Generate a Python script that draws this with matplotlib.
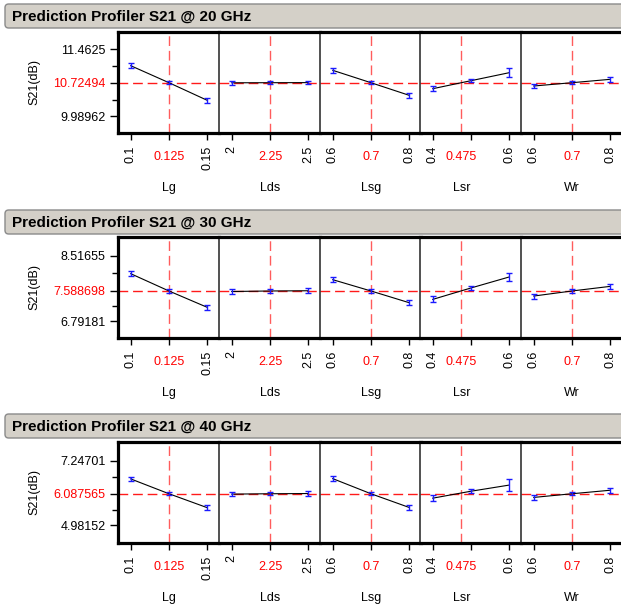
import numpy as np
import matplotlib
matplotlib.use("Agg")
import matplotlib.pyplot as plt
from matplotlib.patches import FancyBboxPatch

plt.rcParams['font.family'] = ['Liberation Sans', 'DejaVu Sans']

factors = ['Lg', 'Lds', 'Lsg', 'Lsr', 'Wr']
levels = [[0.1, 0.125, 0.15], [2, 2.25, 2.5], [0.6, 0.7, 0.8], [0.4, 0.5, 0.6], [0.6, 0.7, 0.8]]
current_x = [0.125, 2.25, 0.7, 0.475, 0.7]
current_lbl = ['0.125', '2.25', '0.7', '0.475', '0.7']
end_lbl = [['0.1', '0.15'], ['2', '2.5'], ['0.6', '0.8'], ['0.4', '0.6'], ['0.6', '0.8']]

titles = ['Prediction Profiler S21 @ 20 GHz',
          'Prediction Profiler S21 @ 30 GHz',
          'Prediction Profiler S21 @ 40 GHz']
current_y = [10.72494, 7.588698, 6.087565]
ytick_vals = [[9.98962, 10.72494, 11.4625],
              [6.79181, 7.588698, 8.51655],
              [4.98152, 6.087565, 7.24701]]
ytick_lbls = [['9.98962', '10.72494', '11.4625'],
              ['6.79181', '7.588698', '8.51655'],
              ['4.98152', '6.087565', '7.24701']]
ylims = [(9.624, 11.835), (6.353, 9.008), (4.370, 7.893)]

s21_20 = [[11.097, 10.725, 10.340], [10.723, 10.725, 10.727], [10.996, 10.725, 10.449],
          [10.594, 10.769, 10.944], [10.653, 10.725, 10.799]]
err_20 = [[0.055, 0.03, 0.05], [0.04, 0.03, 0.04], [0.055, 0.03, 0.05],
          [0.05, 0.035, 0.10], [0.05, 0.03, 0.05]]
s21_30 = [[8.043, 7.589, 7.160], [7.575, 7.589, 7.595], [7.886, 7.589, 7.281],
          [7.368, 7.668, 7.957], [7.456, 7.589, 7.710]]
err_30 = [[0.065, 0.04, 0.06], [0.06, 0.04, 0.06], [0.065, 0.04, 0.065],
          [0.08, 0.05, 0.11], [0.065, 0.04, 0.06]]
s21_40 = [[6.605, 6.088, 5.603], [6.075, 6.088, 6.095], [6.615, 6.088, 5.610],
          [5.934, 6.176, 6.390], [5.960, 6.088, 6.210]]
err_40 = [[0.08, 0.05, 0.08], [0.07, 0.05, 0.08], [0.08, 0.05, 0.08],
          [0.1, 0.07, 0.2], [0.08, 0.05, 0.08]]

series = [s21_20, s21_30, s21_40]
errors = [err_20, err_30, err_40]

# ---- layout (pixels) ----
W, H = 621, 609
bar_top = [4, 210, 414]
plot_top = [32, 237, 442]
plot_h = 101
col_left = [118, 219, 320, 420, 521]
col_w = 101
fs = 9


def rect(x, y, w, h):
    return [x / W, 1 - (y + h) / H, w / W, h / H]


fig = plt.figure(figsize=(W / 100, H / 100), dpi=100)

for i in range(3):
    # title bar
    bar = FancyBboxPatch((5 / W, 1 - (bar_top[i] + 24) / H), 640 / W, 24 / H,
                         boxstyle='round,pad=0,rounding_size=0.006',
                         transform=fig.transFigure, facecolor='#d4d0c8',
                         edgecolor='#8a8a8a', linewidth=1.0)
    fig.add_artist(bar)
    fig.text(12 / W, 1 - (bar_top[i] + 12.5) / H, titles[i], fontsize=11,
             fontweight='bold', va='center', ha='left')

    fig.text(34 / W, 1 - (plot_top[i] + 50) / H, 'S21(dB)', rotation=90,
             fontsize=fs, va='center', ha='center')

    for j in range(5):
        ax = fig.add_axes(rect(col_left[j], plot_top[i], col_w, plot_h))
        lo, hi = levels[j][0], levels[j][-1]
        d = hi - lo
        ax.set_xlim(lo - 0.167 * d, hi + 0.155 * d)
        ax.set_ylim(*ylims[i])

        ax.axhline(current_y[i], color='#ff1a1a', ls=(0, (7, 3.5)), lw=1, zorder=1)
        ax.axvline(current_x[j], color='#ff5c5c', ls=(0, (7, 3.5)), lw=1, zorder=1)

        ax.plot(levels[j], series[i][j], color='black', lw=0.8, zorder=2)
        ax.errorbar(levels[j], series[i][j], yerr=errors[i][j], fmt='none',
                    ecolor='#1a1aff', elinewidth=1, capsize=2.5, capthick=1, zorder=3)

        for s in ['top', 'bottom']:
            ax.spines[s].set_linewidth(2.3)
        ax.spines['right'].set_visible(False)
        ax.spines['left'].set_linewidth(2.3 if j == 0 else 1.1)
        ax.spines['left'].set_color('black' if j == 0 else '#222222')

        ax.set_xticks(levels[j])
        ax.set_xticklabels([end_lbl[j][0], '', end_lbl[j][1]], rotation=90, fontsize=fs)
        ax.tick_params(axis='x', length=5, width=1, pad=4)

        tr = ax.get_xaxis_transform()
        ax.text(current_x[j], -24 / plot_h, current_lbl[j], transform=tr,
                color='red', fontsize=fs, ha='center', va='center')
        ax.text(current_x[j], -55 / plot_h, factors[j], transform=tr,
                fontsize=fs, ha='center', va='center')

        if j == 0:
            ax.set_yticks(ytick_vals[i])
            ax.set_yticklabels(ytick_lbls[i], fontsize=fs)
            ax.get_yticklabels()[1].set_color('red')
            mids = [(ytick_vals[i][0] + ytick_vals[i][1]) / 2,
                    (ytick_vals[i][1] + ytick_vals[i][2]) / 2]
            ax.set_yticks(mids, minor=True)
            ax.tick_params(axis='y', which='major', length=6, width=1, pad=3)
            ax.tick_params(axis='y', which='minor', length=4, width=1)
        else:
            ax.set_yticks([])

fig.savefig('out.png', dpi=100)
